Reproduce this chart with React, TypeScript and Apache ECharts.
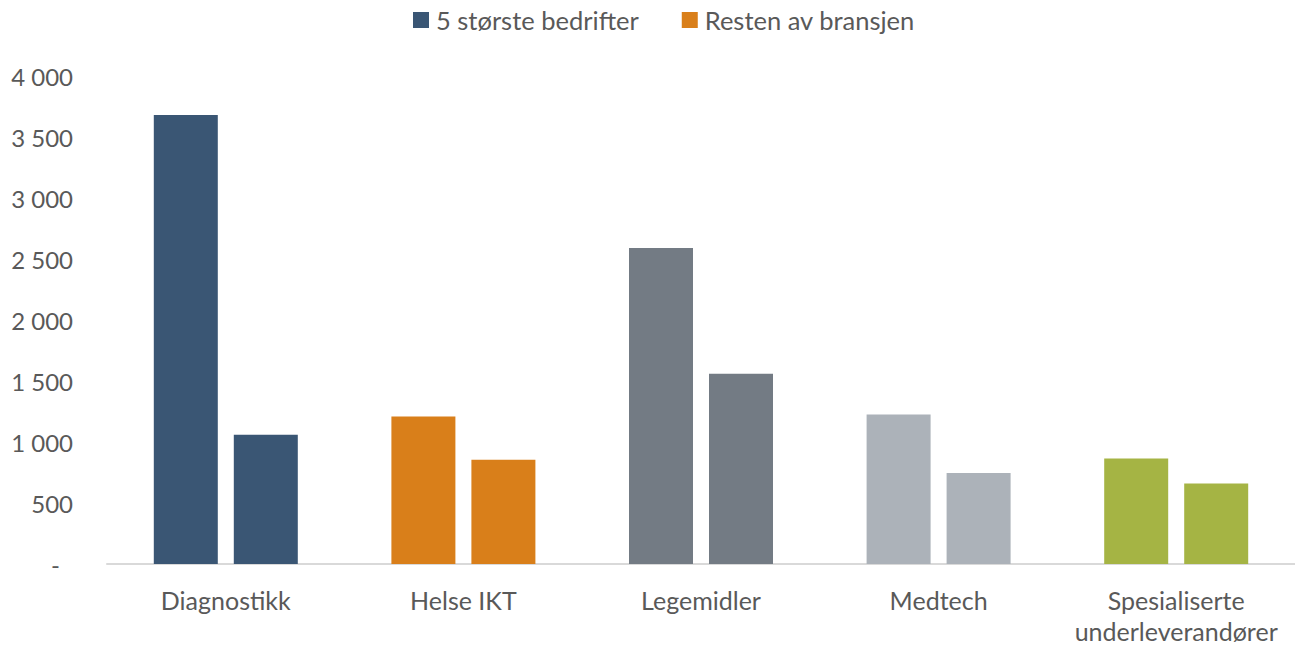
import React, { useEffect, useRef } from "react";
import * as echarts from "echarts";

const categories = ["Diagnostikk", "Helse IKT", "Legemidler", "Medtech", "Spesialiserte\nunderleverandører"];
const seriesNames = ["5 største bedrifter", "Resten av bransjen"];
const top5 = [3680, 1210, 2590, 1225, 865];
const rest = [1060, 855, 1560, 745, 660];
const categoryColors = ["#3A5674", "#D97F1A", "#737B84", "#ACB2B9", "#A5B444"];

export default function App() {
  const ref = useRef<HTMLDivElement>(null);
  useEffect(() => {
    const chart = echarts.init(ref.current!, null, { renderer: "svg" });
    const font = "Lato, sans-serif";
    const mk = (vals: number[]) => vals.map((v, i) => ({ value: v, itemStyle: { color: categoryColors[i] } }));
    chart.setOption({
      animation: false,
      textStyle: { fontFamily: font },
      legend: {
        top: 2,
        left: 408,
        itemWidth: 16,
        itemHeight: 16,
        itemGap: 43,
        icon: "rect",
        textStyle: { fontSize: 25.5, color: "#595959", fontFamily: font, padding: [0, 0, 0, 2] },
        data: seriesNames,
      },
      grid: { left: 107, top: 76, width: 1193, height: 488, containLabel: false },
      xAxis: {
        type: "category",
        data: categories,
        axisLine: { lineStyle: { color: "#D9D9D9", width: 2 } },
        axisTick: { show: false },
        axisLabel: { interval: 0, color: "#595959", fontSize: 25, margin: 20, lineHeight: 31, fontFamily: font },
      },
      yAxis: {
        type: "value",
        min: 0,
        max: 4000,
        interval: 500,
        splitLine: { show: false },
        axisLine: { show: false },
        axisTick: { show: false },
        axisLabel: {
          color: "#595959",
          fontSize: 24,
          margin: 34,
          fontFamily: font,
          formatter: (v: number) => (v === 0 ? "{d|-}" : String(v).replace(/\B(?=(\d{3})+(?!\d))/g, " ")),
          rich: { d: { fontSize: 24, color: "#595959", fontFamily: font, padding: [0, 13, 0, 0] } },
        },
      },
      series: [
        { name: seriesNames[0], type: "bar", barWidth: 64, barGap: "25%", color: categoryColors[0], data: mk(top5) },
        { name: seriesNames[1], type: "bar", barWidth: 64, barGap: "25%", color: categoryColors[1], data: mk(rest) },
      ],
    });
    return () => chart.dispose();
  }, []);
  return <div ref={ref} style={{ width: 1295, height: 646, position: "absolute", left: 0, top: 0 }} />;
}
